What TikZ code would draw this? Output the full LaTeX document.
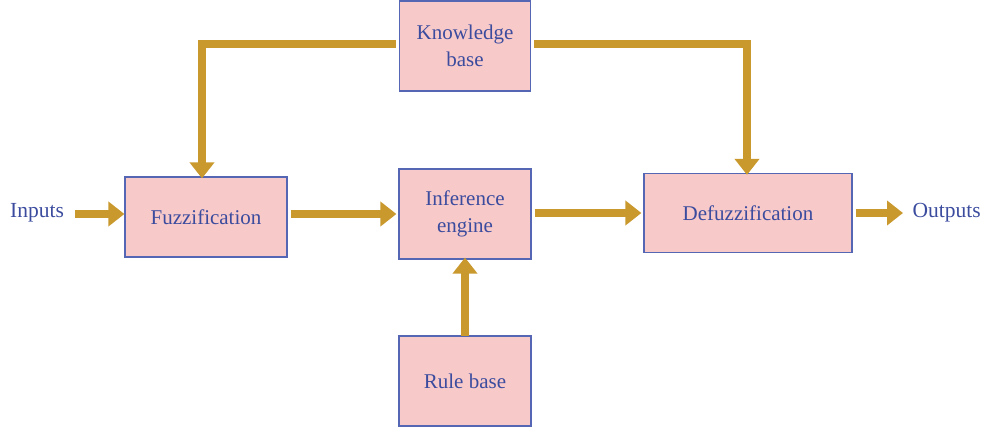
\documentclass[tikz,border=0pt]{standalone}
\usepackage{fontspec}
\setmainfont{Liberation Serif}
\usetikzlibrary{arrows.meta}
\definecolor{boxfill}{HTML}{F8C9C9}
\definecolor{boxline}{HTML}{5466B4}
\definecolor{txt}{HTML}{3B4C9E}
\definecolor{gold}{HTML}{C9992E}
\tikzset{
  blockbox/.style={draw=boxline, line width=1.2pt, fill=boxfill, text=txt, inner sep=0pt, align=center,
    font=\fontsize{21}{28}\selectfont},
  flow/.style={draw=gold, line width=8pt, -{Triangle[width=24pt,length=16pt]}},
  lbl/.style={text=txt, font=\fontsize{21.5}{28}\selectfont, inner sep=0pt}
}
\begin{document}
\begin{tikzpicture}[x=1pt,y=-1pt]
\useasboundingbox (0,0) rectangle (984,430);
\node[blockbox, minimum width=131pt, minimum height=90pt] (kb) at (465,46) {Knowledge\\[-1pt]base};
\node[blockbox, minimum width=162pt, minimum height=80pt] (fz) at (206,217) {Fuzzification};
\node[blockbox, minimum width=132pt, minimum height=90pt] (ie) at (465,214) {Inference\\[-1pt]engine};
\node[blockbox, minimum width=132pt, minimum height=90pt] (rb) at (465,381) {Rule base};
\node[blockbox, minimum width=208pt, minimum height=79pt] (df) at (748,213) {Defuzzification};
\node[lbl, anchor=west] (in) at (10,213) {Inputs};
\node[lbl, anchor=east] (out) at (981,213) {Outputs};
\coordinate (instart) at (75,214);
\coordinate (outend) at (903,213);
\draw[flow] (instart) -- (fz.west |- instart);
\draw[flow] ([xshift=3pt]fz.east |- 0,214) -- ([xshift=-2pt]ie.west |- 0,214);
\draw[flow] ([xshift=3pt]ie.east |- 0,213) -- ([xshift=-2pt]df.west |- 0,213);
\draw[flow] ([xshift=3pt]df.east |- outend) -- (outend);
\draw[flow] ([xshift=-3pt]kb.west |- 0,44) -| ([yshift=-2pt]fz.north -| 202,0);
\draw[flow] ([xshift=3pt]kb.east |- 0,44) -| ([yshift=-2pt]df.north -| 747,0);
\draw[flow] ([yshift=-1pt]rb.north) -- ([yshift=2pt]ie.south);
\end{tikzpicture}
\end{document}
